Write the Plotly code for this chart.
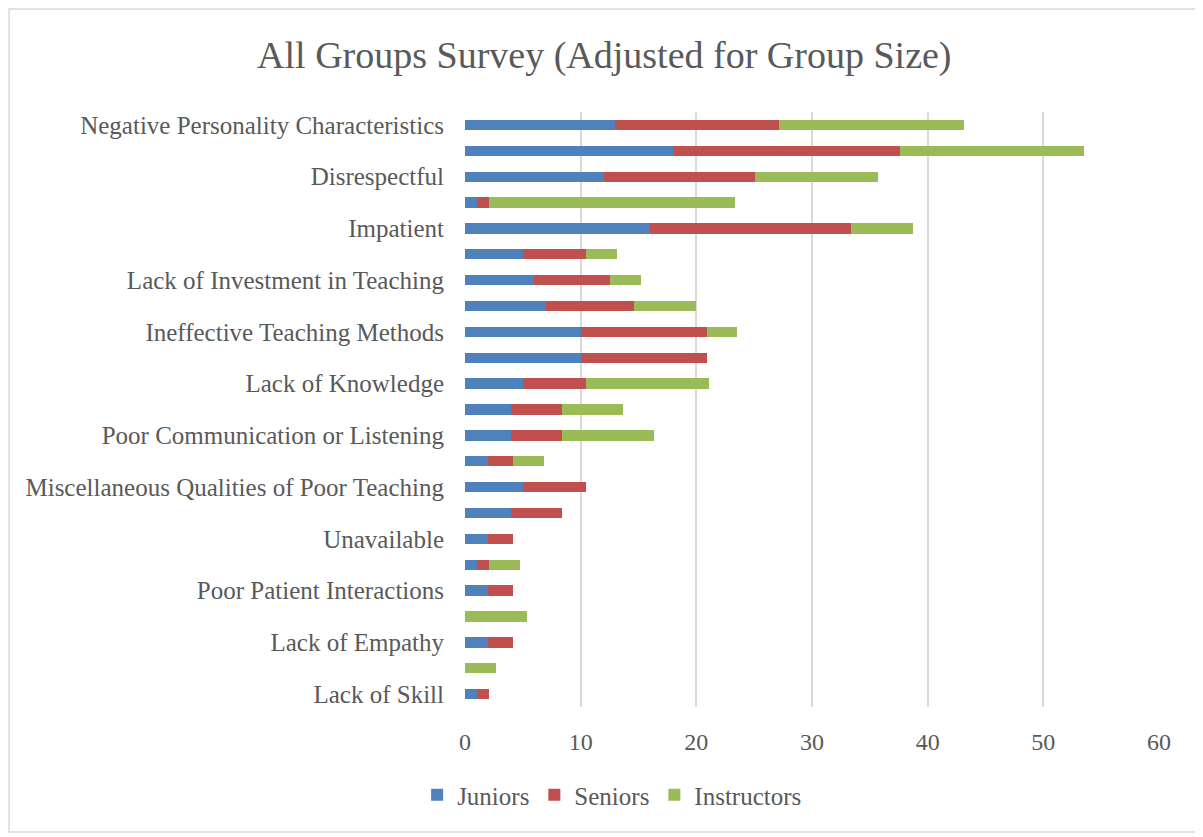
import plotly.graph_objects as go

# categories listed top to bottom; only every other one carries a visible label
categories = [
    "Negative Personality Characteristics", "cat 2",
    "Disrespectful", "cat 4",
    "Impatient", "cat 6",
    "Lack of Investment in Teaching", "cat 8",
    "Ineffective Teaching Methods", "cat 10",
    "Lack of Knowledge", "cat 12",
    "Poor Communication or Listening", "cat 14",
    "Miscellaneous Qualities of Poor Teaching", "cat 16",
    "Unavailable", "cat 18",
    "Poor Patient Interactions", "cat 20",
    "Lack of Empathy", "cat 22",
    "Lack of Skill",
]
shown_labels = categories[::2]

juniors = [13, 18, 12, 1, 16, 5, 6, 7, 10, 10, 5, 4, 4, 2, 5, 4, 2, 1, 2, 0, 2, 0, 1]
seniors = [14.14, 19.58, 13.05, 1.09, 17.4, 5.44, 6.53, 7.61, 10.88, 10.88, 5.44, 4.35,
           4.35, 2.18, 5.44, 4.35, 2.18, 1.09, 2.18, 0, 2.18, 0, 1.09]
instructors = [15.96, 15.96, 10.64, 21.28, 5.32, 2.66, 2.66, 5.32, 2.66, 0, 10.64, 5.32,
               7.98, 2.66, 0, 0, 0, 2.66, 0, 5.32, 0, 2.66, 0]

x_ticks = [0, 10, 20, 30, 40, 50, 60]

font_name = "Liberation Serif"
text_color = "#595959"

fig = go.Figure()
for name, vals, col in [("Juniors", juniors, "#4F81BD"),
                        ("Seniors", seniors, "#C0504D"),
                        ("Instructors", instructors, "#9BBB59")]:
    fig.add_trace(go.Bar(
        y=categories, x=vals, name=name, orientation="h",
        marker=dict(color=col, line=dict(width=0)),
    ))

# page body adds an 8px offset, margins compensate for it
fig.update_layout(
    barmode="stack",
    bargap=0.6,
    width=1195, height=829,
    paper_bgcolor="white", plot_bgcolor="white",
    font=dict(family=font_name, color=text_color, size=25),
    title=dict(text="All Groups Survey (Adjusted for Group Size)",
               x=0.499, xanchor="center", y=0.944, yanchor="middle",
               font=dict(size=38, family=font_name, color=text_color)),
    margin=dict(l=457, r=44, t=104, b=130),
    legend=dict(orientation="h", x=0.212, xanchor="center", y=-0.148, yanchor="middle",
                font=dict(size=25), traceorder="normal", itemwidth=30),
    xaxis=dict(range=[0, 60], tickvals=x_ticks, showgrid=True, gridcolor="#D9D9D9",
               gridwidth=2, zeroline=False, showline=False, ticks="",
               tickfont=dict(size=24), ticklabelstandoff=18),
    yaxis=dict(categoryorder="array", categoryarray=categories[::-1],
               tickmode="array", tickvals=shown_labels, ticktext=shown_labels,
               showgrid=False, ticks="", tickfont=dict(size=25), ticklabelstandoff=20,
               range=[-0.5, len(categories) - 0.5]),
    shapes=[dict(type="rect", xref="paper", yref="paper",
                 x0=-0.657, x1=1.055, y0=-0.21, y1=1.173,
                 line=dict(color="#D9D9D9", width=1.5), fillcolor="rgba(0,0,0,0)",
                 layer="below")],
)

fig.write_html("out.html")
